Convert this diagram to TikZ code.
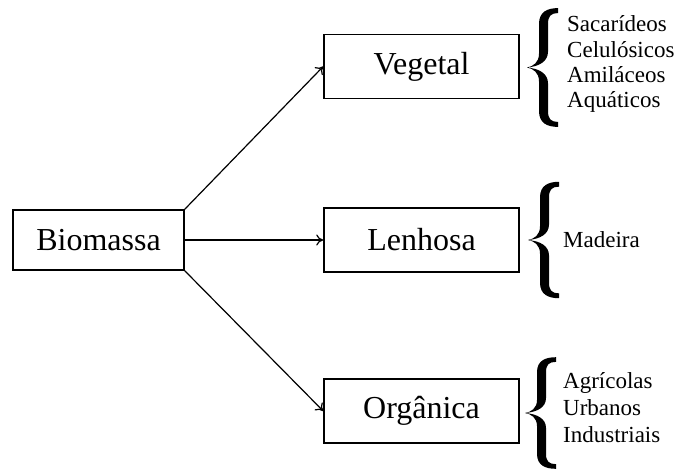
\documentclass[tikz,border=0pt]{standalone}
\usepackage{fontspec}
\setmainfont{Liberation Serif}
\usetikzlibrary{arrows.meta}
% a thick curly brace, point at the local origin, 31 wide and 120 tall
\newcommand\curlybrace[3]{%
  \fill[shift={(#1,#2)},yscale=#3]
    (31,-60) .. controls (20,-60) and (12,-56) .. (12,-44) -- (12,-14)
    .. controls (12,-5) and (6,-1) .. (0,0)
    .. controls (6,1) and (12,5) .. (12,14) -- (12,44)
    .. controls (12,56) and (20,60) .. (31,60) -- (31,55)
    .. controls (24,55) and (21,52) .. (21,44) -- (21,16)
    .. controls (21,6) and (12,1) .. (0,0)
    .. controls (12,-1) and (21,-6) .. (21,-16) -- (21,-44)
    .. controls (21,-52) and (24,-55) .. (31,-55) -- cycle;}
\begin{document}
\begin{tikzpicture}[x=1pt,y=-1pt,
  box/.style={draw,line width=1.6pt,minimum width=195pt,minimum height=64pt,inner sep=0pt,font=\fontsize{32}{36}\selectfont},
  link/.style={line width=1.2pt,-{To[length=7pt,width=11pt]}},
  item/.style={anchor=base west,inner sep=0pt,font=\fontsize{23}{25}\selectfont}]
\useasboundingbox (0,0) rectangle (683,472);

% source and the three categories
\node[box,minimum width=171pt,minimum height=60pt] (bio) at (98.5,240) {Biomassa};
\node[box] (veg) at (421.5,66.5) {Vegetal};
\node[box] (len) at (421.5,240) {Lenhosa};
\node[box] (org) at (421.5,411) {Orgânica};

\draw[link] (bio.north east) -- (veg.west);
\draw[link] (bio.east) -- (len.west);
\draw[link] (bio.south east) -- (org.west);

% braces
\curlybrace{527}{67.5}{0.99}
\curlybrace{528}{240}{0.97}
\curlybrace{525}{413}{0.93}

% sub-types
\node[item] (s1) at (567,31) {Sacarídeos};
\node[item] (s2) at (567,57) {Celulósicos};
\node[item] (s3) at (567,82) {Amiláceos};
\node[item] (s4) at (567,107) {Aquáticos};

\node[item] (m1) at (563,247) {Madeira};

\node[item] (o1) at (563,388) {Agrícolas};
\node[item] (o2) at (563,415) {Urbanos};
\node[item] (o3) at (563,442) {Industriais};
\end{tikzpicture}
\end{document}
